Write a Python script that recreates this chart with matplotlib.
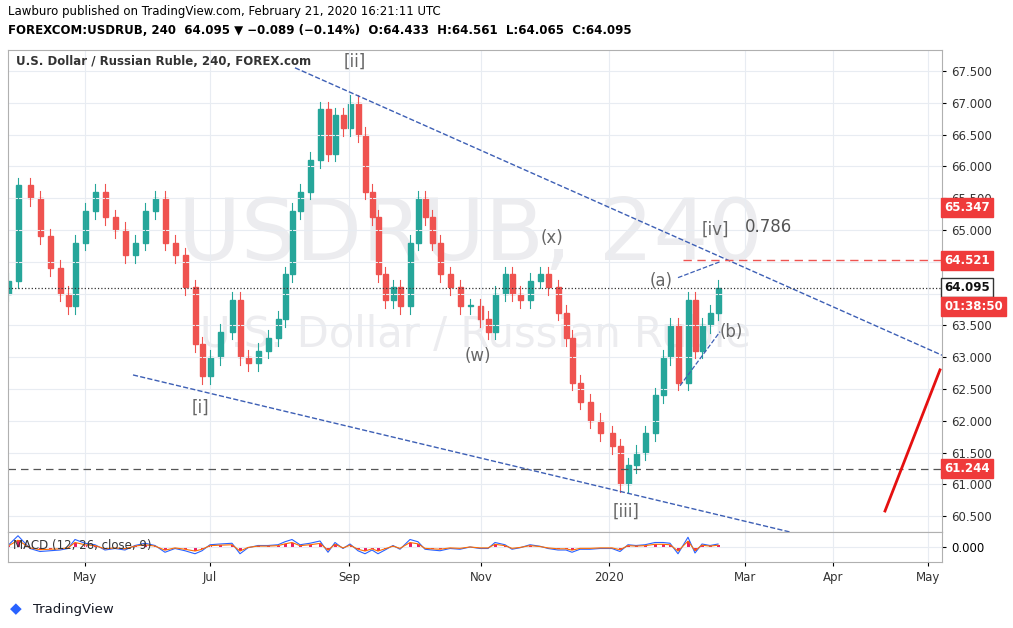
import matplotlib
matplotlib.use("Agg")
import matplotlib.pyplot as plt
from matplotlib.patches import Rectangle

# bar positions (bar-index axis) and closes
xs = [8,18,30,40,50,60,68,75,85,95,105,115,125,135,145,155,165,175,185,195,202,210,220,232,240,248,258,268,278,285,292,300,310,320,328,335,343,350,358,365,372,378,385,393,400,410,418,425,432,440,450,460,470,480,488,495,505,512,520,530,540,548,558,566,572,580,590,600,612,620,628,636,645,655,663,670,678,688,695,702,710,718]
closes = [64.2,65.7,65.5,64.9,64.4,64.0,63.8,64.8,65.3,65.6,65.2,65.0,64.6,64.8,65.3,65.5,64.8,64.6,64.1,63.2,62.7,63.0,63.4,63.9,63.0,62.9,63.1,63.3,63.6,64.3,65.3,65.6,66.1,66.9,66.2,66.8,66.6,67.0,66.5,65.6,65.2,64.3,63.9,64.1,63.8,64.8,65.5,65.2,64.8,64.3,64.1,63.8,63.8,63.6,63.4,64.0,64.3,64.0,63.9,64.2,64.3,64.1,63.7,63.3,62.6,62.3,62.0,61.8,61.6,61.0,61.3,61.5,61.8,62.4,63.0,63.5,62.6,63.9,63.1,63.5,63.7,64.095]
opens = [64.0] + closes[:-1]
month_pos = [85,210,349,481,609,745,833,928]
month_lab = ["May","Jul","Sep","Nov","2020","Mar","Apr","May"]
price_ticks = [60.5,61.0,61.5,62.0,62.5,63.0,63.5,64.0,64.5,65.0,65.5,66.0,66.5,67.0,67.5]

W, H = 1013, 628
fig = plt.figure(figsize=(W/100, H/100), dpi=100)
ax = fig.add_axes([8/W, (H-532)/H, 934/W, 482/H])
mx = fig.add_axes([8/W, (H-562)/H, 934/W, 30/H], sharex=ax)
green, red = "#26a69a", "#ef5350"
wick = 0.12
for x, o, c in zip(xs, opens, closes):
    col = green if c >= o else red
    ax.plot([x, x], [min(o, c)-wick, max(o, c)+wick], color=col, lw=0.8)
    ax.add_patch(Rectangle((x-2.5, min(o, c)), 5, max(abs(c-o), 0.02), color=col))
ax.set_xlim(8, 942); ax.set_ylim(60.25, 67.83)
ax.yaxis.tick_right(); ax.set_yticks(price_ticks)
ax.set_yticklabels([f"{t:.3f}" for t in price_ticks], fontsize=8.5, color="#333")
ax.tick_params(axis="x", labelbottom=False, length=0)
ax.tick_params(axis="y", length=3)
for a in (ax, mx):
    a.set_xticks(month_pos)
    a.grid(color="#e8ecf2", lw=0.8)
    for s in a.spines.values(): s.set_color("#b0b0b0")
mx.set_xticklabels(month_lab, fontsize=8.5, color="#333")
mx.tick_params(length=3)
mx.yaxis.tick_right(); mx.set_ylim(-1, 1); mx.set_yticks([0]); mx.set_yticklabels(["0.000"], fontsize=8.5)
mx.plot(xs, [(c-o)*0.5 for c, o in zip(closes, opens)], color="#2962ff", lw=0.8)
mx.plot(xs, [(c-o)*0.3 for c, o in zip(closes, opens)], color="#ff6d00", lw=0.8)
mx.bar(xs, [(c-o)*0.3 for c, o in zip(closes, opens)], width=3, color="#e91e63")
mx.text(13, 0.1, "MACD (12, 26, close, 9)", fontsize=8.5, color="#333", va="center")

# watermarks
ax.text(470, 64.9, "USDRUB, 240", fontsize=62, color="#ececef", ha="center", va="center", zorder=0)
ax.text(475, 63.35, "U.S. Dollar / Russian Ruble", fontsize=30, color="#ececef", ha="center", va="center", zorder=0)

# trend lines
blue = "#3d5fb5"
ax.plot([295, 942], [67.55, 63.03], ls="--", color=blue, lw=1)
ax.plot([133, 790], [62.72, 60.25], ls="--", color=blue, lw=1)
ax.plot([678, 720], [64.25, 64.5], ls="--", color=blue, lw=0.9)
ax.plot([680, 720], [62.55, 63.4], ls="--", color=blue, lw=0.9)
ax.axhline(64.095, color="#333", ls=":", lw=0.9)
ax.axhline(61.244, color="#555", ls="--", lw=0.9, dashes=(6, 4))
ax.plot([683, 942], [64.521, 64.521], color=red, ls="--", lw=1, dashes=(6, 4))
ax.plot([885, 940], [60.58, 62.8], color="#e51010", lw=2)

lab = dict(fontsize=12, color="#666", ha="center", va="center")
for x, y, t in [(355,67.65,"[ii]"),(200,62.2,"[i]"),(626,60.57,"[iii]"),(715,65.0,"[iv]"),(552,64.87,"(x)"),(478,63.02,"(w)"),(661,64.2,"(a)"),(731,63.4,"(b)")]:
    ax.text(x, y, t, **lab)
ax.text(768, 65.05, "0.786", fontsize=12, color="#555", ha="center", va="center")
ax.text(16, 67.65, "U.S. Dollar / Russian Ruble, 240, FOREX.com", fontsize=8.5, color="#333", fontweight="bold", va="center")

def badge(y, txt, fc, tc="white"):
    ax.text(944, y, txt, fontsize=8.5, color=tc, fontweight="bold", va="center", ha="left",
            bbox=dict(boxstyle="square,pad=0.25", fc=fc, ec=fc if fc != "white" else "#333"), clip_on=False)
badge(65.347, "65.347", "#ef3b3b")
badge(64.521, "64.521", "#ef3b3b")
badge(64.095, "64.095", "white", "#111")
badge(63.79, "01:38:50", "#ef3b3b")
badge(61.244, "61.244", "#ef3b3b")

fig.text(8/W, 1-12/H, "Lawburo published on TradingView.com, February 21, 2020 16:21:11 UTC", fontsize=8.5, va="center")
fig.text(8/W, 1-30/H, "FOREXCOM:USDRUB, 240  64.095 ▼ −0.089 (−0.14%)  O:64.433  H:64.561  L:64.065  C:64.095",
         fontsize=8.5, va="center", fontweight="bold")
fig.text(33/W, 1-609/H, "TradingView", fontsize=9.5, va="center", color="#131722")
fig.text(10/W, 1-609/H, "◆", fontsize=11, va="center", color="#2962ff")
fig.savefig("out.png", dpi=100)
